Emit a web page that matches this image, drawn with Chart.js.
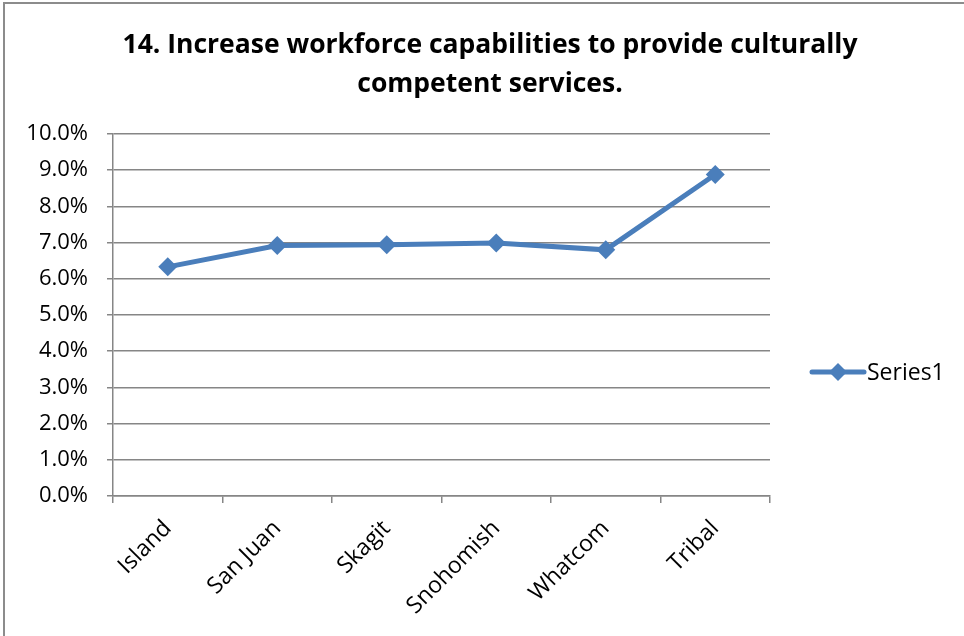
<!DOCTYPE html>
<html>
<head>
<meta charset="utf-8">
<script src="https://cdn.jsdelivr.net/npm/chart.js@4/dist/chart.umd.min.js"></script>
<style>
  html, body { margin: 0; padding: 0; background: #fff; }
  #wrap { position: relative; width: 964px; height: 636px; }
</style>
</head>
<body>
<div id="wrap"><canvas id="c" width="964" height="636"></canvas></div>
<script>
const titleLines = ['14. Increase workforce capabilities to provide culturally', 'competent services.'];
const categories = ['Island', 'San Juan', 'Skagit', 'Snohomish', 'Whatcom', 'Tribal'];
const seriesName = 'Series1';
const seriesValues = [6.33, 6.92, 6.94, 6.99, 6.80, 8.88];
const yTickValues = [0, 1, 2, 3, 4, 5, 6, 7, 8, 9, 10];

const BLUE = '#4A7EBB';
const GRID = '#868686';
const FONT = '"Open Sans", "Liberation Sans", sans-serif';

const decor = {
  id: 'decor',
  afterDraw(chart) {
    const ctx = chart.ctx;
    ctx.save();
    // outer frame (left and top edges)
    ctx.strokeStyle = '#8c8c8c';
    ctx.lineWidth = 2;
    ctx.beginPath();
    ctx.moveTo(4, 640); ctx.lineTo(4, 3); ctx.lineTo(964, 3);
    ctx.stroke();
    // title
    ctx.fillStyle = '#000';
    ctx.font = 'bold 26.5px ' + FONT;
    ctx.textAlign = 'center';
    ctx.textBaseline = 'middle';
    ctx.fillText(titleLines[0], 490, 45);
    ctx.fillText(titleLines[1], 490, 84);
    // legend
    const ly = 372;
    ctx.strokeStyle = BLUE;
    ctx.lineWidth = 5;
    ctx.lineCap = 'round';
    ctx.beginPath();
    ctx.moveTo(812, ly); ctx.lineTo(864, ly);
    ctx.stroke();
    ctx.fillStyle = BLUE;
    ctx.beginPath();
    ctx.moveTo(838, ly - 9); ctx.lineTo(847, ly); ctx.lineTo(838, ly + 9); ctx.lineTo(829, ly);
    ctx.closePath();
    ctx.fill();
    ctx.fillStyle = '#000';
    ctx.font = '23px ' + FONT;
    ctx.textAlign = 'left';
    ctx.fillText(seriesName, 867, ly + 1);
    ctx.restore();
  }
};

new Chart(document.getElementById('c'), {
  type: 'line',
  data: {
    labels: categories,
    datasets: [{
      label: seriesName,
      data: seriesValues,
      borderColor: BLUE,
      backgroundColor: BLUE,
      borderWidth: 5,
      tension: 0,
      pointStyle: 'rectRot',
      pointRadius: 9.5,
      pointBorderWidth: 0,
      pointBackgroundColor: BLUE,
      fill: false
    }]
  },
  options: {
    responsive: false,
    animation: false,
    events: [],
    layout: { padding: { left: 0, top: 134, right: 194, bottom: 0 } },
    plugins: {
      legend: { display: false },
      title: { display: false },
      tooltip: { enabled: false }
    },
    scales: {
      x: {
        offset: true,
        afterFit(scale) { scale.height = 140; },
        grid: { drawOnChartArea: false, drawTicks: true, tickLength: 7, color: GRID, lineWidth: 1.5, offset: true },
        border: { display: true, color: GRID, width: 1.5 },
        ticks: {
          color: '#000',
          font: { family: FONT, size: 23 },
          maxRotation: 45, minRotation: 45,
          padding: 12,
          autoSkip: false
        }
      },
      y: {
        min: 0, max: 10,
        afterFit(scale) { scale.width = 113; },
        afterBuildTicks(scale) { scale.ticks = yTickValues.map(v => ({ value: v })); },
        grid: { color: GRID, lineWidth: 1.5, drawTicks: true, tickLength: 6 },
        border: { display: true, color: GRID, width: 1.5 },
        ticks: {
          color: '#000',
          font: { family: FONT, size: 22 },
          padding: 19,
          callback: v => Number(v).toFixed(1) + '%'
        }
      }
    }
  },
  plugins: [decor]
});
</script>
</body>
</html>
